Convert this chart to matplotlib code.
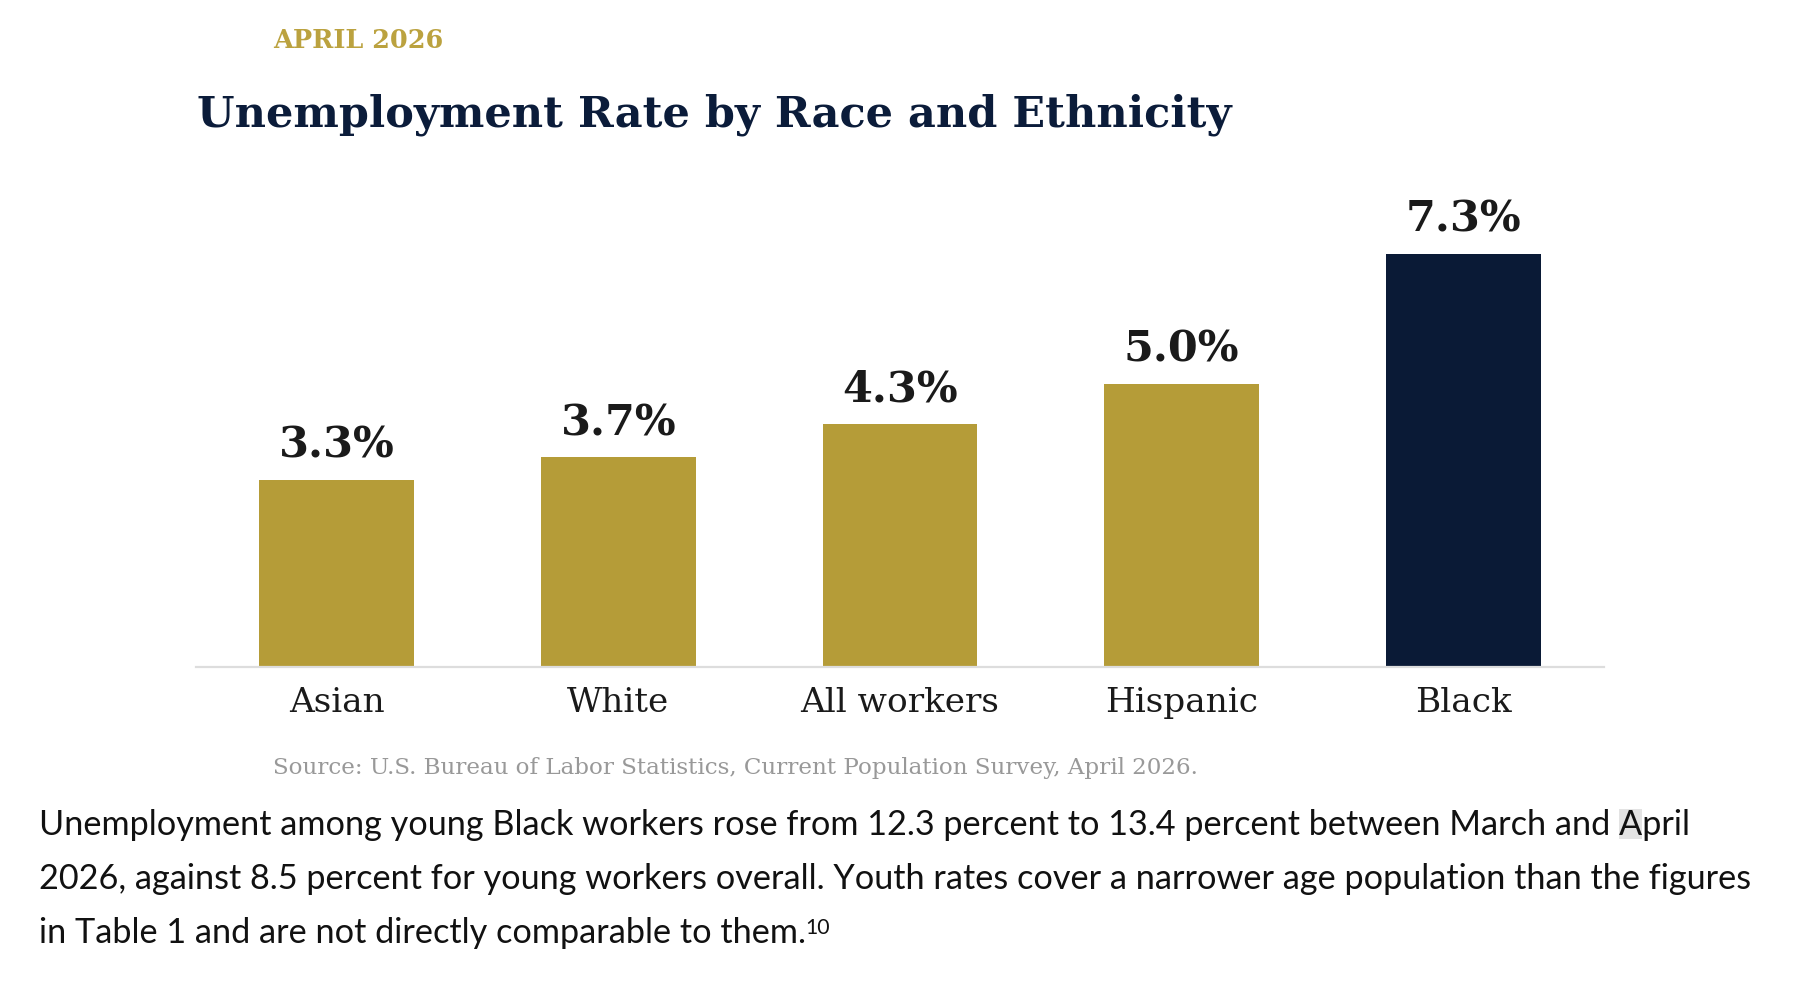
import matplotlib
matplotlib.use('Agg')
import matplotlib.pyplot as plt
from matplotlib.patches import Rectangle

# data
groups = ['Asian', 'White', 'All workers', 'Hispanic', 'Black']
rates = [3.3, 3.7, 4.3, 5.0, 7.3]
rate_labels = ['3.3%', '3.7%', '4.3%', '5.0%', '7.3%']
highlight = 'Black'

kicker = 'APRIL 2026'
title = 'Unemployment Rate by Race and Ethnicity'
source = 'Source: U.S. Bureau of Labor Statistics, Current Population Survey, April 2026.'
body_lines = [
	'Unemployment among young Black workers rose from 12.3 percent to 13.4 percent between March and April',
	'2026, against 8.5 percent for young workers overall. Youth rates cover a narrower age population than the figures',
	'in Table 1 and are not directly comparable to them.',
]
footnote = '10'

GOLD = '#B59C38'
NAVY = '#0A1A36'
W, H = 1803, 994
BODY_FS = 24.7

fig = plt.figure(figsize=(W / 100, H / 100), dpi=100)
fig.patch.set_facecolor('white')

ax = fig.add_axes([196 / W, 327 / H, 1408 / W, 453 / H])
colors = [NAVY if g == highlight else GOLD for g in groups]
x = range(len(groups))
bars = ax.bar(x, rates, width=0.55, color=colors)
ax.set_xlim(-0.5, len(groups) - 0.5)
ax.set_ylim(0, 8)

for b, lab in zip(bars, rate_labels):
	ax.annotate(lab, (b.get_x() + b.get_width() / 2, b.get_height()),
				xytext=(0, 16), textcoords='offset points', ha='center', va='baseline',
				fontsize=31, fontweight='bold', family='DejaVu Serif', color='#1a1a1a',
				annotation_clip=False)

ax.set_xticks(list(x))
ax.set_xticklabels(groups, fontsize=24.7, family='DejaVu Serif', color='#1a1a1a')
ax.tick_params(axis='x', length=0, pad=14.5)
ax.set_yticks([])
for s in ['top', 'left', 'right']:
	ax.spines[s].set_visible(False)
ax.spines['bottom'].set_color('#dddddd')
ax.spines['bottom'].set_linewidth(1.6)

# header texts
fig.text(273 / W, 1 - 40 / H, kicker, fontsize=18.4, fontweight='bold', family='DejaVu Serif',
		 color='#BBA23F', va='center', ha='left')
fig.text(197 / W, 1 - 115 / H, title, fontsize=31, fontweight='bold', family='DejaVu Serif',
		 color='#0B1C3A', va='center', ha='left')
fig.text(273 / W, 1 - 768 / H, source, fontsize=16.6, family='DejaVu Serif',
		 color='#999999', va='center', ha='left')

# paragraph below the chart
line_y = [825, 879, 933]
body_texts = []
for ln, yy in zip(body_lines, line_y):
	t = fig.text(39 / W, 1 - yy / H, ln, fontsize=BODY_FS, family='Lato', color='#111111',
				 va='center', ha='left')
	body_texts.append(t)

fig.canvas.draw()
r = fig.canvas.get_renderer()

# footnote marker after the last line
bb = body_texts[-1].get_window_extent(r)
fig.text((bb.x1 - 1) / W, (bb.y1 - 1) / H, footnote, fontsize=BODY_FS * 0.62, family='Lato',
		 color='#111111', va='top', ha='left')

# grey highlight behind the "A" of April
first = body_lines[0]
k = first.rfind('April')
pre = fig.text(0, 0, first[:k], fontsize=BODY_FS, family='Lato')
a_ch = fig.text(0, 0, 'A', fontsize=BODY_FS, family='Lato')
wpre = pre.get_window_extent(r).width
wa = a_ch.get_window_extent(r).width
pre.remove()
a_ch.remove()
bb0 = body_texts[0].get_window_extent(r)
fig.patches.append(Rectangle(((bb0.x0 + wpre) / W, (bb0.y0 + 2) / H), wa / W, (bb0.height - 2) / H,
							 transform=fig.transFigure, facecolor='#e3e3e3', edgecolor='none', zorder=0))

fig.savefig('out.png', dpi=100, facecolor='white')
